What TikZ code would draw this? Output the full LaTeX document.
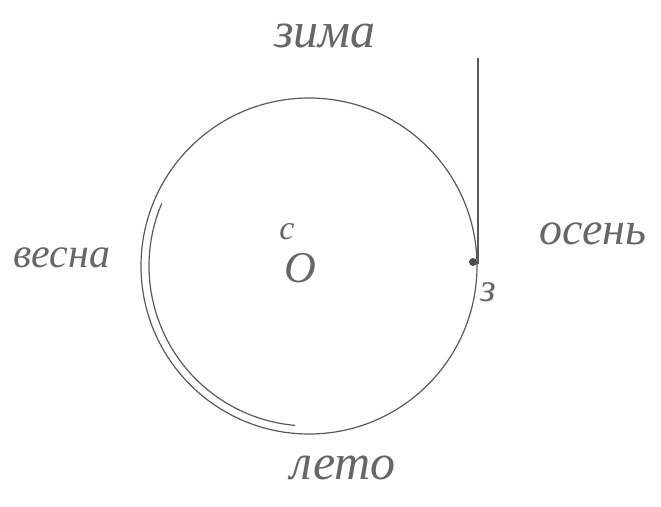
\documentclass[tikz,border=0pt]{standalone}
\usepackage{fontspec}
\setmainfont{Liberation Serif}
\begin{document}
\begin{tikzpicture}[x=1pt,y=-1pt,
  pencil/.style={draw=black!65,line width=1.2pt},
  hand/.style={text=black!60,font=\itshape\fontsize{50}{50}\selectfont,inner sep=0pt}]
\useasboundingbox (0,0) rectangle (661,506);
\node[circle,pencil,minimum size=336pt,inner sep=0pt] (c) at (309,266) {};
\draw[pencil] (309,266) ++(203:160) arc[start angle=203,end angle=95,radius=160] coordinate (innerend);
\coordinate (top) at (478,58);
\coordinate (touch) at (478,264);
\draw[pencil] (top) -- (touch);
\fill[black!70] (473,262) circle (4pt);
\node[hand] (zima) at (325,36) {зима};
\node[hand,font=\itshape\fontsize{42}{42}\selectfont] (vesna) at (62,258) {весна};
\node[hand,font=\itshape\fontsize{46}{46}\selectfont] (osen) at (593,234) {осень};
\node[hand] (leto) at (343,468) {лето};
\node[hand,font=\itshape\fontsize{34}{34}\selectfont] (s) at (287,232) {с};
\node[hand,font=\itshape\fontsize{44}{44}\selectfont] (o) at (300,268) {O};
\node[hand,font=\itshape\fontsize{40}{40}\selectfont] (z) at (488,292) {з};
\end{tikzpicture}
\end{document}
